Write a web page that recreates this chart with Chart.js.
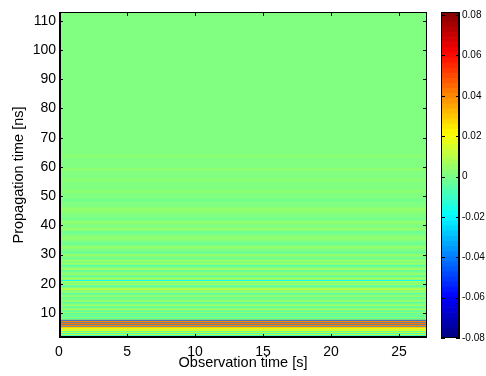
<!DOCTYPE html>
<html>
<head>
<meta charset="UTF-8">
<title>Propagation time</title>
<script src="https://cdn.jsdelivr.net/npm/chart.js"></script>
<style>
    body { margin: 0; background: #fff; }
    .wrap { position: relative; width: 486px; height: 376px; }
    .wrap canvas { position: absolute; left: 0; top: 0; }
</style>
</head>
<body>
<div class="wrap">
    <canvas id="mainChart" width="486" height="376"></canvas>
    <canvas id="barChart" width="486" height="376"></canvas>
</div>
<script>
// rows of the image: each row starts at rowStart[i] (ns) and keeps rowValue[i] over all observation time
const rowStart = [
    1.0, 1.79, 2.13, 2.48, 2.82, 3.16, 3.5, 3.85, 4.19, 4.53, 4.87, 5.21, 5.38, 5.9, 6.07,
    6.58, 6.75, 7.27, 7.61, 7.95, 8.3, 8.65, 9.0, 9.4, 9.8, 10.3, 10.8, 11.3, 11.8, 12.2,
    12.7, 13.2, 13.7, 14.2, 14.8, 15.3, 15.8, 16.3, 16.8, 17.3, 17.8, 18.4, 18.9, 19.4, 19.9,
    20.4, 20.8, 21.3, 21.8, 22.3, 22.8, 23.4, 24.0, 24.6, 25.2, 25.8, 26.4, 27.0, 27.6, 28.2,
    28.8, 29.5, 30.2, 31, 32, 33, 34, 35, 36, 37, 38, 39, 40.5, 41.5, 42.5,
    44, 45, 46, 48, 49, 51, 52, 55, 56, 58.6, 59.3, 63, 64
];
const rowValue = [
    -0.02, 0.02, -0.02, 0.02, -0.018, 0.02, -0.01, 0.02, 0.01, 0.022, 0.03, -0.04, 0.04, -0.04, 0.042,
    -0.04, 0.04, -0.042, 0.006, -0.008, 0.006, -0.01, 0.005, -0.008, 0.003, -0.006, 0.006, 0, -0.007, 0.005,
    0, -0.006, 0.006, 0, -0.005, 0.004, 0, -0.006, 0.005, 0, 0.009, 0, -0.006, 0.004, 0,
    0.006, -0.018, 0.008, 0, -0.005, 0.004, 0, -0.004, 0.005, 0, -0.006, 0.004, 0, 0.005, -0.004,
    0, 0.004, -0.004, 0, 0.003, -0.003, 0, 0.003, 0, -0.003, 0.003, 0, 0.003, -0.002, 0,
    0.002, 0.003, 0, -0.002, 0, 0.002, 0, 0.002, 0, 0.003, 0, 0.002, 0
];
const xTicks = [0, 5, 10, 15, 20, 25];
const yTicks = [10, 20, 30, 40, 50, 60, 70, 80, 90, 100, 110];
const cbTicks = [-0.08, -0.06, -0.04, -0.02, 0, 0.02, 0.04, 0.06, 0.08];
const cbLabels = ['-0.08', '-0.06', '-0.04', '-0.02', '0', '0.02', '0.04', '0.06', '0.08'];

const xMin = 0, xMax = 27.05;
const yMin = 1.45, yMax = 113;
const cMin = -0.08, cMax = 0.08, cTop = 0.0815;
const FONT = "'Liberation Sans', Arial, Helvetica, sans-serif";

// jet colormap
function jetRgb(t) {
    const c = x => Math.round(255 * Math.max(0, Math.min(1, x)));
    return 'rgb(' + c(1.5 - Math.abs(4 * t - 3)) + ',' + c(1.5 - Math.abs(4 * t - 2)) + ',' + c(1.5 - Math.abs(4 * t - 1)) + ')';
}
function jet(v) {
    return jetRgb((v - cMin) / (cMax - cMin));
}

// black box with inward ticks, matlab style
function frame(xVals, yVals, bg, thick) {
    return {
        id: 'frame',
        beforeDatasetsDraw(chart) {
            if (!bg) return;
            const a = chart.chartArea, ctx = chart.ctx;
            ctx.save();
            ctx.fillStyle = bg;
            ctx.fillRect(a.left, a.top, a.right - a.left, a.bottom - a.top);
            ctx.restore();
        },
        afterDraw(chart) {
            const a = chart.chartArea, ctx = chart.ctx;
            const line = (x1, y1, x2, y2) => { ctx.beginPath(); ctx.moveTo(x1, y1); ctx.lineTo(x2, y2); ctx.stroke(); };
            ctx.save();
            ctx.strokeStyle = '#000';
            ctx.lineWidth = 1;
            xVals.forEach(v => {
                const px = Math.round(chart.scales.x.getPixelForValue(v)) + 0.5;
                line(px, a.bottom, px, a.bottom - 4);
                line(px, a.top, px, a.top + 4);
            });
            yVals.forEach(v => {
                const py = Math.round(chart.scales.y.getPixelForValue(v)) + 0.5;
                line(a.left, py, a.left + 4, py);
                line(a.right, py, a.right - 4, py);
            });
            ctx.strokeRect(a.left + 0.5, a.top + 0.5, a.right - a.left - 1, a.bottom - a.top - 1);
            ctx.lineWidth = 2;
            thick.forEach(side => {
                if (side === 'left') line(a.left + 1, a.top, a.left + 1, a.bottom);
                if (side === 'bottom') line(a.left, a.bottom - 1, a.right, a.bottom - 1);
                if (side === 'right') line(a.right - 1, a.top, a.right - 1, a.bottom);
            });
            ctx.restore();
        }
    };
}

const rowSets = rowStart.map((s, i) => ({
    data: [[s, i < rowStart.length - 1 ? rowStart[i + 1] : yMax]],
    backgroundColor: jet(rowValue[i]),
    borderWidth: 0,
    grouped: false,
    barPercentage: 1,
    categoryPercentage: 1,
    xAxisID: 'xc',
    yAxisID: 'y'
}));

new Chart(document.getElementById('mainChart'), {
    type: 'bar',
    data: { labels: ['t'], datasets: rowSets },
    options: {
        responsive: false,
        animation: false,
        devicePixelRatio: 1,
        layout: { padding: { left: 0, right: 59, top: 12, bottom: 0 } },
        plugins: { legend: { display: false }, tooltip: { enabled: false } },
        scales: {
            xc: { type: 'category', display: false },
            x: {
                type: 'linear', position: 'bottom', min: xMin, max: xMax, offset: false,
                afterBuildTicks: s => { s.ticks = xTicks.map(v => ({ value: v })); },
                afterFit: s => { s.height = 38; },
                grid: { display: false, drawTicks: false, offset: false },
                border: { display: false },
                ticks: { color: '#000', font: { family: FONT, size: 14 }, padding: 6, maxRotation: 0 },
                title: { display: true, text: 'Observation time [s]', color: '#000', font: { family: FONT, size: 14.5 }, padding: { top: 0, bottom: 4 } }
            },
            y: {
                type: 'linear', position: 'left', min: yMin, max: yMax,
                afterBuildTicks: s => { s.ticks = yTicks.map(v => ({ value: v })); },
                afterFit: s => { s.width = 59; },
                grid: { display: false, drawTicks: false },
                border: { display: false },
                ticks: { color: '#000', font: { family: FONT, size: 14 }, padding: 3 },
                title: { display: true, text: 'Propagation time [ns]', color: '#000', font: { family: FONT, size: 14.5 }, padding: { top: 10, bottom: 0 } }
            }
        }
    },
    plugins: [frame(xTicks, yTicks, jet(0), ['left', 'bottom'])]
});

// colorbar, 64 levels
const levels = [];
for (let i = 0; i < 64; i++) levels.push(i);
const levelSets = levels.map(i => ({
    data: [[cMin + i * (cTop - cMin) / 64, cMin + (i + 1) * (cTop - cMin) / 64]],
    backgroundColor: jetRgb((i + 0.5) / 64),
    borderWidth: 0,
    grouped: false,
    barPercentage: 1,
    categoryPercentage: 1,
    xAxisID: 'xc',
    yAxisID: 'y'
}));

new Chart(document.getElementById('barChart'), {
    type: 'bar',
    data: { labels: ['c'], datasets: levelSets },
    options: {
        responsive: false,
        animation: false,
        devicePixelRatio: 1,
        layout: { padding: { left: 441, right: 0, top: 12, bottom: 38 } },
        plugins: { legend: { display: false }, tooltip: { enabled: false } },
        scales: {
            xc: { type: 'category', display: false },
            x: { type: 'linear', display: false, min: 0, max: 1 },
            y: {
                type: 'linear', position: 'right', min: cMin, max: cTop,
                afterBuildTicks: s => { s.ticks = cbTicks.map(v => ({ value: v })); },
                afterFit: s => { s.width = 26; },
                grid: { display: false, drawTicks: false },
                border: { display: false },
                ticks: {
                    color: '#000', font: { family: FONT, size: 10 }, padding: 2,
                    callback: (v, i) => cbLabels[i]
                }
            }
        }
    },
    plugins: [frame([], cbTicks, null, ['right'])]
});
</script>
</body>
</html>
